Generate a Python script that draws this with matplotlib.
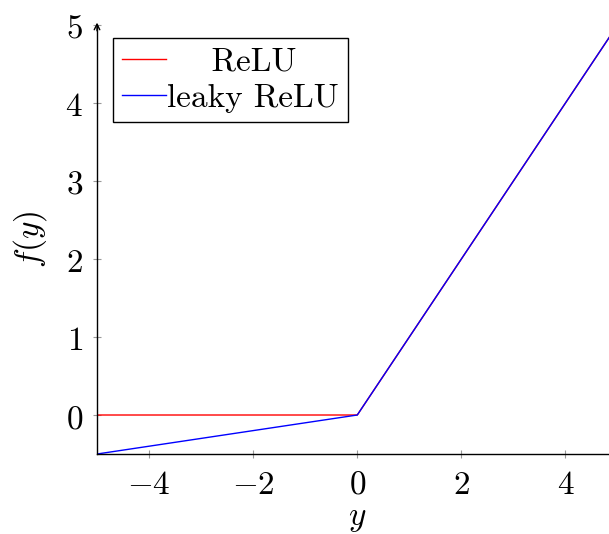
import numpy as np
import matplotlib
matplotlib.use("Agg")
import matplotlib.pyplot as plt

plt.rcParams['mathtext.fontset'] = 'cm'

# data
y_vals = [-5, 0, 5]
relu = [0, 0, 5]
leaky = [-0.5, 0, 5]
xticks = [-4, -2, 0, 2, 4]
yticks = [0, 1, 2, 3, 4, 5]

fig = plt.figure(figsize=(6.09, 5.34), dpi=100)
# axis runs past the right edge of the image, as in the original
ax = fig.add_axes([0.1593, 0.1498, 0.8547, 0.8034])

ax.plot(y_vals, relu, color='red', lw=1.0, label='    ReLU')
ax.plot(y_vals, leaky, color='blue', lw=1.0, label='leaky ReLU')

ax.set_xlim(-5, 5)
ax.set_ylim(-0.5, 5)

ax.spines['top'].set_visible(False)
ax.spines['right'].set_visible(False)
ax.spines['left'].set_linewidth(1.0)
ax.spines['bottom'].set_linewidth(1.0)

# arrow heads on the axis lines
ax.annotate('', xy=(0, 1.012), xytext=(0, 0.98), xycoords='axes fraction',
            arrowprops=dict(arrowstyle='->', lw=1.0, color='black'), annotation_clip=False)
ax.annotate('', xy=(1.012, 0), xytext=(0.98, 0), xycoords='axes fraction',
            arrowprops=dict(arrowstyle='->', lw=1.0, color='black'), annotation_clip=False)

ax.set_xticks(xticks)
ax.set_yticks(yticks)
ax.set_xticklabels([f'${v}$' for v in xticks])
ax.set_yticklabels([f'${v}$' for v in yticks])
ax.tick_params(direction='inout', length=6, width=0.8, color='0.6', labelsize=24, pad=7)

ax.set_xlabel('$y$', fontsize=24, labelpad=0)
ax.set_ylabel('$f(y)$', fontsize=24, labelpad=12)

leg = ax.legend(loc='upper left', bbox_to_anchor=(0.031, 0.97), prop={'family': 'cmr10', 'size': 24},
                frameon=True, fancybox=False, edgecolor='black', framealpha=1,
                handlelength=1.3, handletextpad=0.03, labelspacing=0.2, borderpad=0.28,
                borderaxespad=0)
leg.get_frame().set_linewidth(1.0)

fig.savefig('out.png', dpi=100)
